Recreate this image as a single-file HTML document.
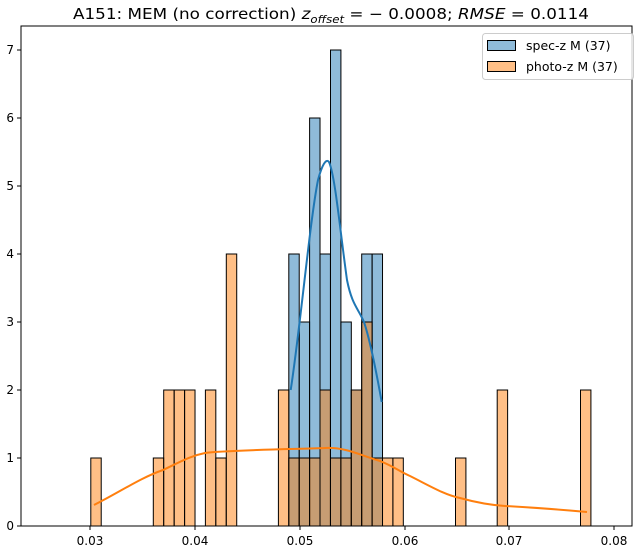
<!DOCTYPE html>
<html><head><meta charset="utf-8"><style>body{margin:0;background:#fff}svg{display:block}text{font-family:"DejaVu Sans","Liberation Sans",sans-serif}</style></head><body>
<svg width="642" height="552" viewBox="0 0 642 552" xmlns="http://www.w3.org/2000/svg">
<rect width="642" height="552" fill="#fff"/>
<text x="331" y="19" font-size="15" text-anchor="middle" textLength="516" lengthAdjust="spacingAndGlyphs" font-weight="normal">A151: MEM (no correction) <tspan font-style="italic">z</tspan><tspan font-style="italic" font-size="10.5" dy="4">offset</tspan><tspan dy="-4"> = − 0.0008; </tspan><tspan font-style="italic">RMSE</tspan> = 0.0114</text>
<g stroke="#000" stroke-width="1">
<g fill="#1f77b4" fill-opacity="0.5">
<rect x="288.8" y="254" width="10.42" height="272"/>
<rect x="299.2" y="322" width="10.42" height="204"/>
<rect x="309.6" y="118" width="10.42" height="408"/>
<rect x="320.0" y="254" width="10.42" height="272"/>
<rect x="330.5" y="50" width="10.42" height="476"/>
<rect x="340.9" y="322" width="10.42" height="204"/>
<rect x="351.3" y="390" width="10.42" height="136"/>
<rect x="361.7" y="254" width="10.42" height="272"/>
<rect x="372.1" y="254" width="10.42" height="272"/>
</g>
<g fill="#ff7f0e" fill-opacity="0.5">
<rect x="90.8" y="458" width="10.42" height="68"/>
<rect x="153.3" y="458" width="10.42" height="68"/>
<rect x="163.7" y="390" width="10.42" height="136"/>
<rect x="174.2" y="390" width="10.42" height="136"/>
<rect x="184.6" y="390" width="10.42" height="136"/>
<rect x="205.4" y="390" width="10.42" height="136"/>
<rect x="215.8" y="458" width="10.42" height="68"/>
<rect x="226.3" y="254" width="10.42" height="272"/>
<rect x="278.4" y="390" width="10.42" height="136"/>
<rect x="288.8" y="458" width="10.42" height="68"/>
<rect x="299.2" y="458" width="10.42" height="68"/>
<rect x="309.6" y="458" width="10.42" height="68"/>
<rect x="320.0" y="390" width="10.42" height="136"/>
<rect x="330.5" y="458" width="10.42" height="68"/>
<rect x="340.9" y="458" width="10.42" height="68"/>
<rect x="351.3" y="390" width="10.42" height="136"/>
<rect x="361.7" y="322" width="10.42" height="204"/>
<rect x="372.1" y="458" width="10.42" height="68"/>
<rect x="382.5" y="458" width="10.42" height="68"/>
<rect x="392.9" y="458" width="10.42" height="68"/>
<rect x="455.5" y="458" width="10.42" height="68"/>
<rect x="497.2" y="390" width="10.42" height="136"/>
<rect x="580.5" y="390" width="10.42" height="136"/>
</g>
</g>
<path d="M290.7,390 C300,330 310,220 318,180 C322,165 326,158 329,162 C335,175 340,230 347,280 C352,305 358,308 364,322 C370,340 376,370 381.7,402" fill="none" stroke="#1f77b4" stroke-width="2"/>
<path d="M94,505 C120,492 140,478 163,470 C180,462 190,456 205,453 C225,450 300,449 325,448 C345,447 360,455 377,460 C392,465 400,472 410,476 C430,486 445,495 460,498 C478,503 490,505 505,506 C540,508 565,510 587,512" fill="none" stroke="#ff7f0e" stroke-width="2"/>
<rect x="21" y="26" width="611" height="500" fill="none" stroke="#000" stroke-width="1"/>
<g stroke="#000" stroke-width="1">
<line x1="90" y1="526" x2="90" y2="530"/><line x1="195" y1="526" x2="195" y2="530"/><line x1="300" y1="526" x2="300" y2="530"/><line x1="405" y1="526" x2="405" y2="530"/><line x1="509" y1="526" x2="509" y2="530"/><line x1="614" y1="526" x2="614" y2="530"/>
<line x1="17" y1="526" x2="21" y2="526"/><line x1="17" y1="458" x2="21" y2="458"/><line x1="17" y1="390" x2="21" y2="390"/><line x1="17" y1="322" x2="21" y2="322"/><line x1="17" y1="254" x2="21" y2="254"/><line x1="17" y1="186" x2="21" y2="186"/><line x1="17" y1="118" x2="21" y2="118"/><line x1="17" y1="50" x2="21" y2="50"/>
</g>
<g font-size="12" text-anchor="middle">
<text x="90" y="545">0.03</text><text x="195" y="545">0.04</text><text x="300" y="545">0.05</text><text x="405" y="545">0.06</text><text x="509" y="545">0.07</text><text x="614" y="545">0.08</text>
</g>
<g font-size="12" text-anchor="end">
<text x="14" y="530">0</text><text x="14" y="462">1</text><text x="14" y="394">2</text><text x="14" y="326">3</text><text x="14" y="258">4</text><text x="14" y="190">5</text><text x="14" y="122">6</text><text x="14" y="54">7</text>
</g>
<rect x="482.5" y="33.5" width="151" height="46" rx="3" fill="#fff" fill-opacity="0.8" stroke="#ccc"/>
<rect x="487.5" y="40.5" width="28" height="10" fill="#1f77b4" fill-opacity="0.5" stroke="#000"/>
<rect x="487.5" y="61.5" width="28" height="10" fill="#ff7f0e" fill-opacity="0.5" stroke="#000"/>
<text x="526" y="50" font-size="12.5">spec-z M (37)</text>
<text x="526" y="71" font-size="12.5">photo-z M (37)</text>
</svg>
</body></html>
